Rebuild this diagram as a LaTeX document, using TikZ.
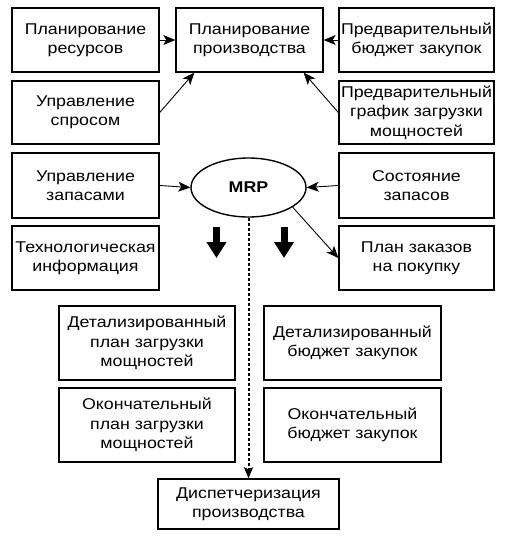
\documentclass[tikz,border=0pt]{standalone}
\usepackage{fontspec}
\setmainfont[FakeStretch=1.14]{Liberation Sans}
\usetikzlibrary{arrows.meta,shapes.geometric}

\tikzset{
  blk/.style={draw, line width=1.4pt, align=center, inner sep=0pt, font=\fontsize{15.6}{19.4}\selectfont},
  arr/.style={line width=0.9pt, -{Stealth[length=12pt, width=10pt, inset=3pt]}},
  bigarr/.style={line width=7pt, -{Triangle[length=16pt, width=19pt]}},
  dotarr/.style={line width=2pt, dash pattern=on 3pt off 2pt, -{Stealth[length=11pt, width=9pt, inset=2pt]}}
}

\begin{document}
\begin{tikzpicture}[x=1pt, y=-1pt]
\useasboundingbox (0,0) rectangle (506,542);

\def\xl{85.5};
\def\xm{249.5};
\def\xr{416.5};
\def\wl{147};
\def\wr{155};

% upper part
\node[blk, minimum width=\wl, minimum height=64] (res) at (\xl, 40) {Планирование\\ресурсов};
\node[blk, minimum width=\wl, minimum height=64] (prod) at (\xm, 40) {Планирование\\производства};
\node[blk, minimum width=\wr, minimum height=64] (budg) at (\xr, 40) {Предварительный\\бюджет закупок};
\node[blk, minimum width=\wl, minimum height=63] (spros) at (\xl, 112.5) {Управление\\спросом};
\node[blk, minimum width=\wr, minimum height=63] (graf) at (\xr, 112.5) {Предварительный\\график загрузки\\мощностей};

\node[blk, minimum width=\wl, minimum height=65] (zap) at (\xl, 185.5) {Управление\\запасами};
\node[blk, ellipse, minimum width=115, minimum height=59, font=\fontsize{15.6}{19}\bfseries] (mrp) at (248.5, 187.5) {MRP};
\node[blk, minimum width=\wr, minimum height=65] (sost) at (\xr, 185.5) {Состояние\\запасов};
\node[blk, minimum width=\wl, minimum height=64] (tech) at (\xl, 258) {Технологическая\\информация};
\node[blk, minimum width=\wr, minimum height=64] (plan) at (\xr, 258) {План заказов\\на покупку};

% lower part
\node[blk, minimum width=176, minimum height=74] (detp) at (147, 343) {Детализированный\\план загрузки\\мощностей};
\node[blk, minimum width=177, minimum height=74] (detb) at (352.5, 343) {Детализированный\\бюджет закупок};
\node[blk, minimum width=176, minimum height=74] (okp) at (147, 425) {Окончательный\\план загрузки\\мощностей};
\node[blk, minimum width=177, minimum height=74] (okb) at (352.5, 425) {Окончательный\\бюджет закупок};
\node[blk, minimum width=181, minimum height=50] (disp) at (248.5, 504) {Диспетчеризация\\производства};

\draw[arr] (res.east) -- (prod.west);
\draw[arr] (budg.west) -- (prod.east);
\draw[arr] (spros.east) -- ([xshift=19pt]prod.south west);
\draw[arr] (graf.west) -- ([xshift=-20pt]prod.south east);
\draw[arr] (zap.east) -- (mrp.west);
\draw[arr] (sost.west) -- (mrp.east);
\draw[arr] (mrp.-24) -- (plan.west);

\coordinate (a1) at (216.5, 227);
\coordinate (a2) at (216.5, 258);
\coordinate (b1) at (284, 227);
\coordinate (b2) at (284, 258);
\draw[bigarr] (a1) -- (a2);
\draw[bigarr] (b1) -- (b2);

\draw[dotarr] (mrp.south) -- (disp.north);

\end{tikzpicture}
\end{document}
